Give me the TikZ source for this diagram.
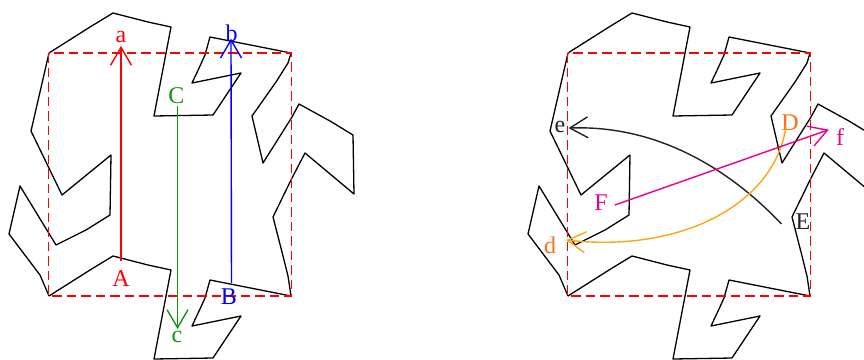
\documentclass[tikz,border=0pt]{standalone}
\usepackage{fontspec}
\setmainfont{Liberation Serif}
\usetikzlibrary{arrows.meta}
\definecolor{cgreen}{RGB}{16,150,16}
\definecolor{cline}{RGB}{255,165,20}
\definecolor{clabel}{RGB}{255,112,24}
\definecolor{cdark}{RGB}{34,34,34}
\tikzset{
  tileline/.style={draw=black,line width=1.3pt,line join=round},
  dashbox/.style={draw=red,line width=1.4pt,dash pattern=on 9.5pt off 5pt},
  lbl/.style={inner sep=0pt,font=\fontsize{24}{24}\selectfont},
  arr/.style={line width=1.4pt,-{Straight Barb[length=18pt,width=21pt,line width=1.4pt]}}
}
\newcommand{\tileshape}{%
  \draw[tileline] (49,53) -- (90,27) -- (113,13) -- (148,22) -- (171,27) -- (154,116) -- (213,115) -- (241,73) -- (192,83) -- (200,66) -- (205,55) -- (210,37) -- (291,53);
  \draw[tileline] (291,53) -- (288,63) -- (276,82) -- (252,116) -- (263,163) -- (292,117) -- (299,104) -- (330,121) -- (353,135) -- (354,194) -- (305,153) -- (292,178) -- (273,217) -- (283,256) -- (288,276) -- (291,296);
  \draw[tileline] (49,53) -- (31,131) -- (62,195) -- (111,155) -- (110,215) -- (86,230) -- (56,245) -- (20,186) -- (9,234) -- (40,275) -- (49,296);
  \draw[tileline] (49,296) -- (90,270) -- (113,256) -- (148,265) -- (171,270) -- (154,359) -- (213,358) -- (241,316) -- (192,326) -- (200,309) -- (205,298) -- (210,280) -- (291,296);
  \draw[dashbox] (48.5,53) rectangle (291.5,296);
}
\begin{document}
\begin{tikzpicture}[x=1pt,y=-1pt]
\useasboundingbox (0,0) rectangle (864,359);
\clip (0,0) rectangle (864,359);
\fill[white] (0,0) rectangle (864,359);
\begin{scope}\tileshape\end{scope}
\begin{scope}[shift={(519,0)}]\tileshape\end{scope}

% left panel labels
\node[lbl,text=red] (la) at (121,37) {a};
\node[lbl,text=red] (lA) at (121,279) {A};
\node[lbl,text=blue] (lb) at (231.5,33) {b};
\node[lbl,text=blue] (lB) at (229,297) {B};
\node[lbl,text=cgreen] (lC) at (176.5,96) {C};
\node[lbl,text=cgreen] (lc) at (177,337) {c};
% right panel labels
\node[lbl,text=clabel] (rD) at (790,123) {D};
\node[lbl,text=clabel] (rd) at (550,245) {d};
\node[lbl,text=cdark] (rE) at (803,222) {E};
\node[lbl,text=cdark] (re) at (560,127) {e};
\node[lbl,text=magenta] (rF) at (601,203) {F};
\node[lbl,text=magenta] (rf) at (840,137) {f};

% connectors
\draw[arr,red,shorten <=10pt,shorten >=3pt] (lA.north) -- (la.south);
\draw[arr,blue,shorten <=6pt,shorten >=-3pt] ([xshift=2.5pt]lB.north) -- ([xshift=-0.5pt]lb.south);
\draw[arr,cgreen,shorten <=2pt,shorten >=2pt] ([xshift=1pt]lC.south) -- ([xshift=0.5pt]lc.north);
\draw[arr,cdark,shorten >=-2pt] ([xshift=-14pt,yshift=-10pt]rE.north west) .. controls +(-59,-62) and (650,125) .. ([xshift=5pt,yshift=-1pt]re.east);
\draw[arr,cline] ([xshift=-4pt,yshift=5pt]rD.south) .. controls (775,205) and (680,253) .. ([xshift=10pt,yshift=5pt]rd.east);
\draw[arr,magenta,shorten >=-1pt] ([xshift=7pt,yshift=-2pt]rF.east) -- ([xshift=-8pt,yshift=7pt]rf.west);
\end{tikzpicture}
\end{document}
